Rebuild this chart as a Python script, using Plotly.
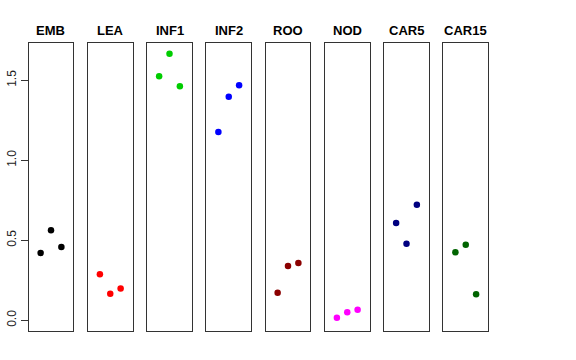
import plotly.graph_objects as go
from plotly.subplots import make_subplots

categories = ["EMB", "LEA", "INF1", "INF2", "ROO", "NOD", "CAR5", "CAR15"]
colors = ["#000000", "#FF0000", "#00CD00", "#0000FF", "#8B0000", "#FF00FF", "#000080", "#006400"]
replicate = [1, 2, 3]
emb = [0.420, 0.562, 0.458]
lea = [0.288, 0.166, 0.198]
inf1 = [1.525, 1.666, 1.462]
inf2 = [1.177, 1.397, 1.469]
roo = [0.172, 0.339, 0.358]
nod = [0.016, 0.050, 0.066]
car5 = [0.608, 0.479, 0.722]
car15 = [0.425, 0.472, 0.162]
values = [emb, lea, inf1, inf2, roo, nod, car5, car15]

y_ticks = [0.0, 0.5, 1.0, 1.5]
y_tick_labels = ["0.0", "0.5", "1.0", "1.5"]

W, H = 576, 360
fig = make_subplots(rows=1, cols=len(categories))

left0, step, pw = 28.7, 59.25, 44.6
top_px, bot_px = 43, 331
title_px = 30
for i, (cat, col, vals) in enumerate(zip(categories, colors, values)):
    fig.add_trace(go.Scatter(x=replicate, y=vals, mode="markers",
                             marker=dict(color=col, size=6.5),
                             showlegend=False, hoverinfo="skip"),
                  row=1, col=i + 1)
    l = (left0 + i * step) / W
    r = (left0 + i * step + pw) / W
    xa = "xaxis" if i == 0 else f"xaxis{i+1}"
    ya = "yaxis" if i == 0 else f"yaxis{i+1}"
    fig.layout[xa].update(domain=[l, r], range=[-0.15, 4.15], showgrid=False,
                          zeroline=False, showticklabels=False, ticks="", automargin=False,
                          showline=True, mirror=True, linecolor="#333333", linewidth=1)
    fig.layout[ya].update(domain=[(H - bot_px) / H, (H - top_px) / H], automargin=False,
                          range=[-0.067, 1.733], showgrid=False, zeroline=False,
                          showline=True, mirror=True, linecolor="#333333", linewidth=1)
    if i == 0:
        fig.layout[ya].update(tickvals=y_ticks, ticktext=y_tick_labels, ticks="outside",
                              ticklen=7, tickcolor="#333333", tickangle=-90,
                              tickfont=dict(family="Liberation Sans", size=12, color="#222222"))
    else:
        fig.layout[ya].update(showticklabels=False, ticks="")
    fig.add_annotation(x=(l + r) / 2, y=(H - title_px) / H, xref="paper", yref="paper",
                       text=f"<b>{cat}</b>", showarrow=False, xanchor="center", yanchor="middle",
                       font=dict(family="Liberation Sans", size=13, color="black"))

fig.update_layout(width=W, height=H, margin=dict(l=0, r=0, t=0, b=0, autoexpand=False),
                  plot_bgcolor="white", paper_bgcolor="white")
fig.write_html("out.html", config={"displayModeBar": False, "staticPlot": True},
               post_script="document.body.style.margin='0';")
